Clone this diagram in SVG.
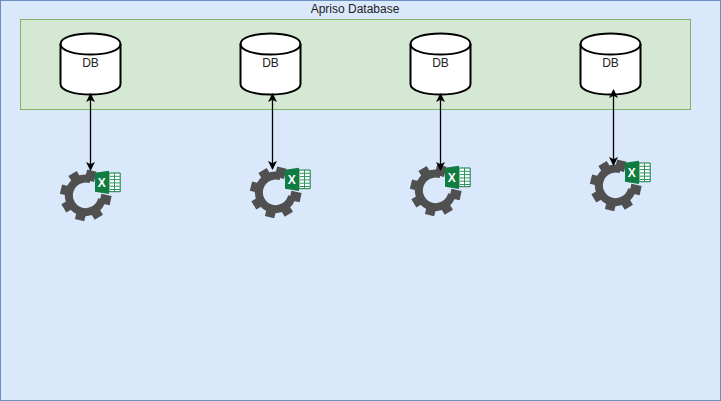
<svg xmlns="http://www.w3.org/2000/svg" width="721" height="401" viewBox="0 0 721 401">
<style>
.db{fill:#fff;stroke:#000;stroke-width:2}
.lbl{font-family:"Liberation Sans",Arial,sans-serif;font-size:12px;fill:#222;text-anchor:middle}
.conn{fill:none;stroke:#000;stroke-width:1.3;marker-start:url(#ah);marker-end:url(#ah)}
.tooth{fill:#505050}
</style>
<defs>
<marker id="ah" viewBox="0 0 10 10" refX="9" refY="5" markerWidth="9" markerHeight="9" markerUnits="userSpaceOnUse" orient="auto-start-reverse"><path d="M0 0L10 5L0 10L2.5 5Z" fill="#000"/></marker>
<g id="cyl">
<path class="db" d="M0 10.5C0 -3.5 60 -3.5 60 10.5V50.5C60 64.5 0 64.5 0 50.5Z"/>
<path class="db" d="M0 10.5C0 24.5 60 24.5 60 10.5" style="fill:none"/>
</g>
<rect id="t" class="tooth" x="15" y="-4.8" width="10.5" height="9.6"/>
<g id="tool">
<g transform="translate(0.7 0.3)">
<path d="M5.1 -16A16.8 16.8 0 1 0 16.3 4" fill="none" stroke="#505050" stroke-width="8"/>
<use href="#t" transform="rotate(12)"/>
<use href="#t" transform="rotate(59)"/>
<use href="#t" transform="rotate(104)"/>
<use href="#t" transform="rotate(149)"/>
<use href="#t" transform="rotate(194)"/>
<use href="#t" transform="rotate(239)"/>
<use href="#t" transform="rotate(284)"/>
</g>
<path d="M10 -22.3L24 -24.3V-1L10 -3.3Z" fill="#107c41"/>
<path d="M24 -22H35.2V-3.3H24Z" fill="#fff" stroke="#107c41"/>
<path d="M25 -18.7H35M25 -15.4H35M25 -12.1H35M25 -8.8H35M25 -5.5H35M29.5 -22V-3.5" stroke="#2a9560" stroke-width="1" fill="none"/>
<text x="16.8" y="-8.4" font-family="'Liberation Sans',Arial,sans-serif" font-size="12" font-weight="bold" fill="#fff" text-anchor="middle">X</text>
</g>
</defs>
<rect id="container" x="0.5" y="0.5" width="720" height="400" fill="#dae8fc" stroke="#6c8ebf"/>
<text class="lbl" x="355" y="13">Apriso Database</text>
<rect id="database-band" x="20.5" y="19.5" width="670" height="90" fill="#d5e8d4" stroke="#82b366"/>
<g id="db1"><use href="#cyl" x="60.5" y="33.5"/><text class="lbl" x="90.5" y="66.5">DB</text></g>
<g id="db2"><use href="#cyl" x="240.5" y="33.5"/><text class="lbl" x="270.5" y="66.5">DB</text></g>
<g id="db3"><use href="#cyl" x="410.5" y="33.5"/><text class="lbl" x="440.5" y="66.5">DB</text></g>
<g id="db4"><use href="#cyl" x="580.5" y="33.5"/><text class="lbl" x="610.5" y="66.5">DB</text></g>
<g id="tool1"><use href="#tool" x="85" y="195"/></g>
<g id="tool2"><use href="#tool" x="275" y="192"/></g>
<g id="tool3"><use href="#tool" x="435" y="190"/></g>
<g id="tool4"><use href="#tool" x="615" y="185"/></g>
<g id="connectors">
<path class="conn" d="M90.5 94V170"/>
<path class="conn" d="M272.5 94V169"/>
<path class="conn" d="M440.5 94V170"/>
<path class="conn" d="M613.5 90V165"/>
</g>
</svg>
